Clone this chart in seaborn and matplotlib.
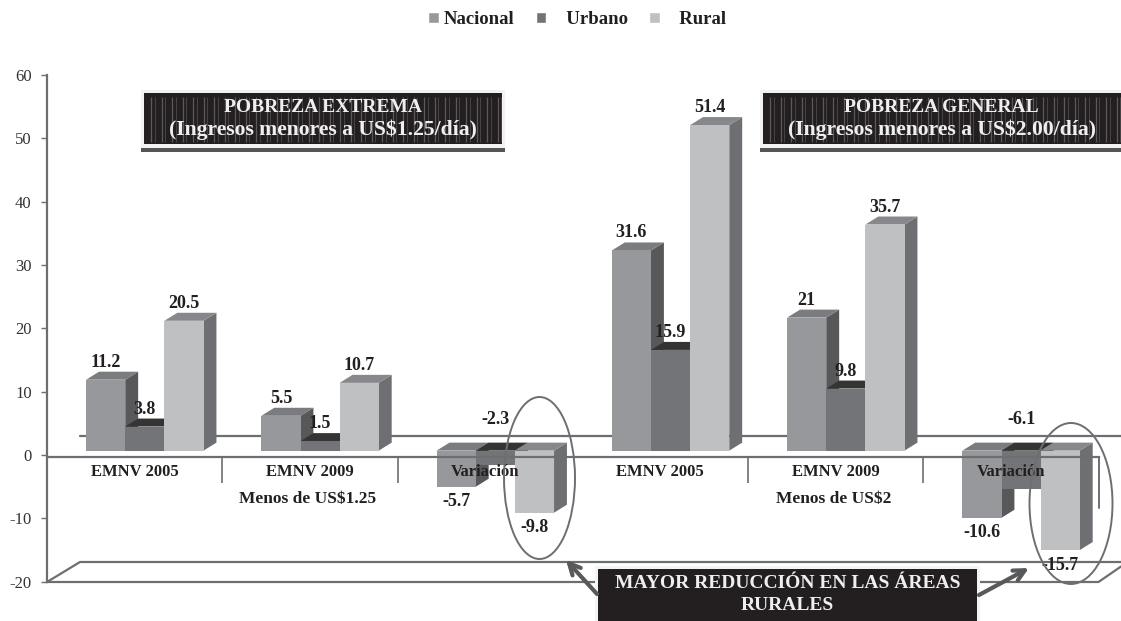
import numpy as np
import pandas as pd
import matplotlib
matplotlib.use("Agg")
import matplotlib.pyplot as plt
from matplotlib.patches import Polygon, Rectangle, Ellipse, FancyArrowPatch
from matplotlib.transforms import offset_copy
import seaborn as sns

# Survey columns, left to right
slots = [0, 1, 2, 3, 4, 5]
slot_labels = ["EMNV 2005", "EMNV 2009", "Variación", "EMNV 2005", "EMNV 2009", "Variación"]
nacional = [11.2, 5.5, -5.7, 31.6, 21, -10.6]
urbano = [3.8, 1.5, -2.3, 15.9, 9.8, -6.1]
rural = [20.5, 10.7, -9.8, 51.4, 35.7, -15.7]
series_names = ["Nacional", "Urbano", "Rural"]
legend_labels = ["Nacional", "   Urbano", "   Rural"]

# Front, top and side shades for each series
front_colors = ["#97989c", "#737477", "#bfc0c2"]
top_colors = ["#7b7c80", "#343435", "#87888b"]
side_colors = ["#58585a", "#58585a", "#6e6f73"]
line_color = "#6d6e71"
ink = "#231f20"

W, H = 1121, 621
sns.set_style("white")
plt.rcParams["font.family"] = ["Liberation Serif", "DejaVu Serif"]
plt.rcParams["axes.unicode_minus"] = False

fig = plt.figure(figsize=(W / 100, H / 100), dpi=100, facecolor="white")


def pixel_layer(order):
    """Full-figure axes addressed in image pixels, for framing and callouts."""
    layer = fig.add_axes([0, 0, 1, 1], zorder=order)
    layer.set_xlim(0, W)
    layer.set_ylim(H, 0)
    layer.axis("off")
    return layer


under = pixel_layer(0)
over = pixel_layer(2)

ax = fig.add_axes([47 / W, 1 - 581.7 / H, (1098.5 - 47) / W, (581.7 - 75) / H], zorder=1)
ax.patch.set_visible(False)

frame = pd.DataFrame({
    "slot": slots * 3,
    "serie": np.repeat(series_names, len(slots)),
    "valor": nacional + urbano + rural,
})
sns.barplot(data=frame, x="slot", y="valor", hue="serie", hue_order=series_names,
            palette=front_colors, saturation=1, width=0.67, gap=0, dodge=True,
            errorbar=None, ax=ax, legend=True)

ax.set_xlim(-0.5, 5.5)
ax.set_ylim(-20, 60)
ax.set_xlabel("")
ax.set_ylabel("")

# Axes styling: the category axis sits on the zero plane
for side in ("top", "right"):
    ax.spines[side].set_visible(False)
ax.spines["bottom"].set_position(("data", -0.27))
for side in ("left", "bottom"):
    ax.spines[side].set_color(line_color)
    ax.spines[side].set_linewidth(1.6)
ax.set_axisbelow(False)
ax.set_yticks(range(-20, 61, 10))
ax.tick_params(axis="y", left=True, length=4, width=1, color=line_color, labelsize=12,
               labelcolor="#333333", pad=7)
ax.set_xticks(slots, slot_labels)
ax.tick_params(axis="x", which="major", length=0, labelsize=12, pad=5.5, labelcolor=ink)
for label in ax.get_xticklabels():
    label.set_fontweight("bold")
ax.set_xticks([0.5, 1.5, 3.5, 4.5], minor=True)
ax.tick_params(axis="x", which="minor", bottom=True, length=18.5, width=1.2,
               color=line_color, direction="out")

# Extrude the bars: front faces are nudged forward, tops and sides added behind them
front = offset_copy(ax.transData, fig=fig, x=10.2, y=4.4, units="dots")
depth_x = 12.9 / 175.2
depth_y = 8 / 6.33
for i, bars in enumerate(ax.containers):
    base_z = 1 + i * 0.1
    for bar in bars:
        x0 = bar.get_x()
        x1 = x0 + bar.get_width()
        value = bar.get_y() + bar.get_height()
        if bar.get_height() < 0 or bar.get_y() < 0:
            value = min(bar.get_y(), value)
        high = max(0, value)
        low = min(0, value)
        bar.set_transform(front)
        bar.set_clip_on(False)
        bar.set_linewidth(0)
        bar.set_zorder(base_z + 0.05)
        top_face = [(x0, high), (x0 + depth_x, high + depth_y),
                    (x1 + depth_x, high + depth_y), (x1, high)]
        side_face = [(x1, high), (x1 + depth_x, high + depth_y),
                     (x1 + depth_x, low + depth_y), (x1, low)]
        for verts, color in ((side_face, side_colors[i]), (top_face, top_colors[i])):
            ax.add_patch(Polygon(verts, closed=True, facecolor=color, edgecolor="none",
                                 transform=front, clip_on=False, zorder=base_z))

        # Value label: Urbano drops hang above the zero plane, other drops below the bar
        text = f"{value:g}"
        anchor_y = value
        dy = 17.5 if value >= 0 else -15
        if value < 0 and i == 1:
            anchor_y = 0
            dy = 31
        ax.annotate(text, xy=((x0 + x1) / 2, anchor_y), xycoords=front,
                    xytext=(0, dy), textcoords="offset pixels", ha="center", va="center",
                    fontsize=13, fontweight="bold", color=ink, zorder=6,
                    annotation_clip=False)

# Legend across the top of the figure
handles, _ = ax.get_legend_handles_labels()
ax.legend(handles, legend_labels, loc="center", bbox_to_anchor=(577 / W, 1 - 19.5 / H),
          bbox_transform=fig.transFigure, ncol=3, frameon=False, handlelength=0.58,
          handleheight=0.58, handletextpad=0.3, columnspacing=1.1,
          prop={"size": 13.5, "weight": "bold"}, labelcolor=ink)

# Chart floor and back wall
under.plot([47, 80, W], [582, 562, 562], color=line_color, lw=1.6)
under.plot([47, 1098.5, W], [582, 582, 566.5], color=line_color, lw=1.6)
under.plot([80, W], [436, 436], color=line_color, lw=1.6)
over.plot([1098.5, 1098.5], [457, 508], color=line_color, lw=1.4)

# Group captions under the category labels
for x, caption in ((308, "Menos de US$1.25"), (833.5, "Menos de US$2")):
    over.text(x, 499, caption, ha="center", va="center", fontsize=12.5,
              fontweight="bold", color=ink)


def title_box(x0, x1, center, lines):
    """Dark striped banner with a white rim and a drop shadow."""
    over.add_patch(Rectangle((x0 - 3, 148), x1 - x0 + 6, 4, facecolor="#555555", edgecolor="none"))
    over.add_patch(Rectangle((x0 - 3, 90), x1 - x0 + 6, 58, facecolor="#f2f2f2", edgecolor="none"))
    over.add_patch(Rectangle((x0, 92.5), x1 - x0, 51, facecolor=ink, edgecolor="none"))
    stripes = np.arange(x0 + 7, x1, 10.5)
    over.vlines(stripes, 97, 142, color="#8a8a8a", lw=0.9, alpha=0.55)
    over.vlines(stripes + 3.5, 97, 142, color="#8a8a8a", lw=0.7, alpha=0.35)
    over.text(center, 107, lines[0], ha="center", va="center", fontsize=14,
              fontweight="bold", color="#efefef")
    over.text(center, 130, lines[1], ha="center", va="center", fontsize=15.6,
              fontweight="bold", color="#efefef")


title_box(144, 502, 323, ["POBREZA EXTREMA", "(Ingresos menores a US$1.25/día)"])
title_box(763, 1140, 941.5, ["POBREZA GENERAL", "(Ingresos menores a US$2.00/día)"])

# Rings around the rural drops
over.add_patch(Ellipse((539.5, 478), 71, 162, fill=False, edgecolor=line_color, lw=1.4))
over.add_patch(Ellipse((1071, 503.5), 83, 161, fill=False, edgecolor=line_color, lw=1.4))

# Callout banner and its arrows
over.add_patch(Rectangle((595, 566), 385, 60, facecolor="#f4f4f4", edgecolor="none"))
over.add_patch(Rectangle((598, 569), 379, 55, facecolor=ink, edgecolor="none"))
over.text(787.5, 584, "MAYOR REDUCCIÓN EN LAS ÁREAS", ha="center", va="center",
          fontsize=14, fontweight="bold", color="#efefef")
over.text(787.5, 606, "RURALES", ha="center", va="center",
          fontsize=14, fontweight="bold", color="#efefef")
for tail, tip in (((597, 594), (566, 560)), ((979, 595), (1029, 568))):
    over.add_patch(FancyArrowPatch(tail, tip, arrowstyle="->", mutation_scale=20,
                                   color="#58595b", lw=3, shrinkA=0, shrinkB=0))

fig.savefig("out.png", dpi=100, facecolor="white")
